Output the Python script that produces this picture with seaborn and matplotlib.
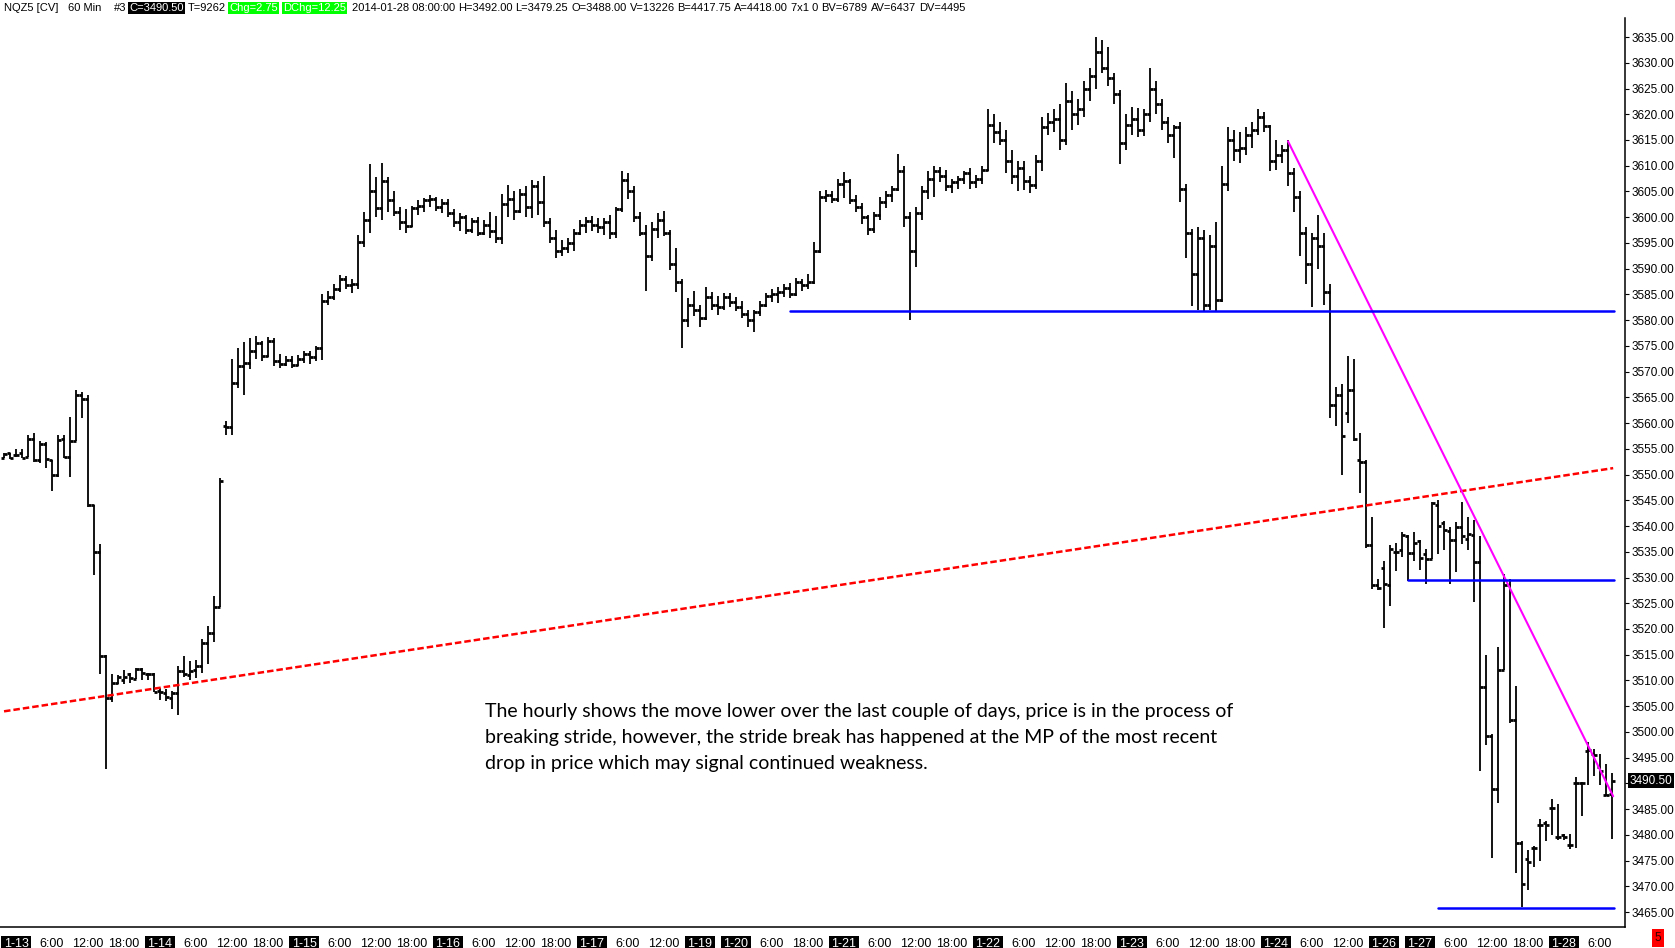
"""Hourly NQ futures bars with stride line, trend line and support levels."""

import matplotlib

matplotlib.use("Agg")
import matplotlib.pyplot as plt
import numpy as np
import pandas as pd
import seaborn as sns

# --- hourly OHLC bars (one value per bar, oldest first) ---
OPEN = [
    3553.25, 3554.25, 3553.75, 3554.25, 3553.5, 3557.0, 3552.75, 3556.0, 3552.75, 3550.0,
    3557.0, 3553.5, 3556.5, 3565.5, 3564.75, 3544.0, 3535.0, 3514.75, 3506.5, 3509.5,
    3510.0, 3511.25, 3510.25, 3512.25, 3511.25, 3511.25, 3508.0, 3507.5, 3506.5, 3507.5,
    3511.75, 3511.0, 3512.0, 3512.75, 3517.25, 3519.25, 3524.25, 3559.5, 3559.25, 3567.75,
    3571.0, 3571.75, 3574.0, 3575.5, 3573.0, 3576.0, 3572.0, 3571.5, 3572.25, 3571.25,
    3572.5, 3573.5, 3572.75, 3574.5, 3583.75, 3584.5, 3586.0, 3588.0, 3586.75, 3587.0,
    3595.25, 3599.5, 3605.0, 3601.75, 3607.0, 3603.25, 3601.0, 3599.0, 3598.25, 3601.75,
    3602.25, 3603.25, 3603.5, 3602.0, 3602.75, 3600.75, 3599.0, 3600.0, 3597.5, 3599.25,
    3597.0, 3598.5, 3597.25, 3596.0, 3602.5, 3603.5, 3601.25, 3604.5, 3602.0, 3606.0,
    3603.0, 3599.0, 3596.0, 3593.5, 3594.0, 3595.0, 3597.0, 3598.5, 3599.25, 3598.5,
    3598.0, 3599.0, 3597.0, 3601.5, 3607.25, 3605.0, 3600.0, 3597.0, 3592.5, 3597.75,
    3599.5, 3597.0, 3591.0, 3587.5, 3580.0, 3583.0, 3582.0, 3580.5, 3584.5, 3583.0,
    3582.5, 3584.5, 3583.5, 3582.5, 3581.25, 3580.0, 3581.5, 3583.0, 3584.75, 3585.0,
    3585.5, 3586.25, 3585.0, 3587.5, 3586.75, 3587.5, 3593.5, 3604.0, 3604.25, 3603.5,
    3606.5, 3607.0, 3603.25, 3602.0, 3600.0, 3597.75, 3600.5, 3603.0, 3604.25, 3605.5,
    3609.0, 3600.0, 3593.5, 3600.75, 3605.0, 3607.5, 3609.0, 3608.0, 3606.0, 3606.75,
    3607.5, 3608.5, 3606.75, 3607.5, 3609.25, 3618.0, 3616.5, 3615.0, 3611.0, 3608.0,
    3609.5, 3607.0, 3606.25, 3611.0, 3617.5, 3618.5, 3619.0, 3615.0, 3622.5, 3620.0,
    3621.0, 3625.0, 3627.5, 3632.0, 3629.0, 3627.0, 3624.0, 3614.5, 3618.0, 3619.0,
    3617.0, 3620.0, 3625.0, 3622.0, 3618.5, 3616.0, 3617.5, 3605.5, 3597.0, 3589.0,
    3596.0, 3583.0, 3594.5, 3584.0, 3606.5, 3615.0, 3613.0, 3613.5, 3616.0, 3617.0,
    3619.5, 3617.75, 3611.0, 3612.0, 3613.0, 3608.5, 3604.0, 3597.0, 3591.0, 3596.0,
    3594.5, 3585.5, 3563.5, 3565.5, 3562.0, 3566.5, 3552.75, 3552.5, 3536.25, 3528.5,
    3531.75, 3528.5, 3535.0, 3535.25, 3538.0, 3534.75, 3537.0, 3534.5, 3533.5, 3544.0,
    3540.5, 3539.0, 3537.25, 3539.75, 3537.5, 3538.25, 3533.0, 3508.75, 3499.25, 3489.0,
    3512.0, 3528.5, 3502.25, 3478.5, 3475.25, 3477.5, 3482.0, 3482.25, 3485.25, 3479.5,
    3480.0, 3478.0, 3490.0, 3490.0, 3496.25, 3495.75, 3493.25, 3487.75, 3488.0,
]
HIGH = [
    3554.25, 3554.25, 3555.0, 3555.0, 3557.75, 3558.0, 3556.5, 3556.25, 3552.75, 3557.75,
    3557.75, 3561.25, 3566.5, 3566.0, 3565.5, 3544.0, 3536.5, 3515.0, 3511.25, 3511.0,
    3512.0, 3511.5, 3512.5, 3512.5, 3511.5, 3511.5, 3508.5, 3508.25, 3508.0, 3512.75,
    3514.75, 3513.75, 3514.0, 3518.0, 3520.5, 3526.5, 3549.25, 3560.5, 3572.5, 3574.5,
    3575.75, 3576.5, 3577.0, 3576.0, 3576.75, 3576.5, 3573.5, 3573.0, 3573.0, 3573.25,
    3574.0, 3574.0, 3575.0, 3585.0, 3585.75, 3587.0, 3588.75, 3588.5, 3588.0, 3596.5,
    3601.0, 3610.25, 3607.75, 3610.5, 3607.75, 3605.0, 3602.0, 3601.5, 3602.25, 3603.25,
    3603.75, 3604.25, 3604.0, 3603.5, 3603.5, 3601.5, 3600.75, 3600.5, 3599.75, 3600.0,
    3599.5, 3601.0, 3600.25, 3604.5, 3606.25, 3605.0, 3605.5, 3606.0, 3607.25, 3607.0,
    3608.0, 3599.75, 3597.5, 3595.5, 3596.0, 3597.75, 3599.5, 3600.0, 3600.25, 3599.75,
    3599.75, 3600.5, 3602.0, 3609.0, 3608.5, 3606.0, 3601.0, 3598.5, 3599.0, 3600.75,
    3601.25, 3597.5, 3594.0, 3588.0, 3584.25, 3585.75, 3583.0, 3586.5, 3585.5, 3584.75,
    3585.25, 3585.25, 3584.5, 3583.75, 3582.0, 3582.0, 3583.75, 3585.25, 3586.0, 3586.5,
    3587.0, 3587.25, 3588.25, 3588.0, 3589.0, 3595.25, 3605.0, 3605.25, 3605.0, 3607.5,
    3608.75, 3607.5, 3604.25, 3602.75, 3600.5, 3601.0, 3604.0, 3605.0, 3606.0, 3612.25,
    3610.0, 3601.0, 3602.0, 3606.0, 3609.0, 3610.0, 3609.75, 3609.25, 3607.5, 3608.0,
    3609.0, 3609.5, 3608.25, 3610.0, 3621.0, 3620.0, 3618.5, 3617.0, 3613.0, 3611.0,
    3611.0, 3608.0, 3612.0, 3619.5, 3620.25, 3621.0, 3622.0, 3626.0, 3624.5, 3623.0,
    3626.5, 3629.0, 3635.0, 3634.5, 3633.0, 3628.0, 3624.75, 3620.0, 3621.5, 3621.25,
    3621.0, 3629.0, 3626.5, 3623.0, 3619.5, 3618.0, 3618.5, 3606.5, 3597.75, 3598.0,
    3597.5, 3596.5, 3599.0, 3610.0, 3617.5, 3617.0, 3616.5, 3617.5, 3618.5, 3621.0,
    3620.5, 3618.0, 3615.0, 3614.0, 3615.0, 3609.5, 3605.0, 3598.0, 3597.0, 3600.5,
    3597.0, 3587.0, 3567.0, 3567.5, 3573.0, 3572.5, 3558.0, 3552.75, 3541.75, 3529.75,
    3533.25, 3536.25, 3536.75, 3538.75, 3538.25, 3538.75, 3537.25, 3535.5, 3544.75, 3545.0,
    3541.0, 3539.75, 3540.75, 3544.75, 3541.75, 3541.25, 3538.0, 3515.0, 3499.5, 3516.5,
    3530.75, 3529.75, 3509.0, 3478.75, 3477.0, 3477.75, 3483.0, 3482.75, 3487.0, 3486.0,
    3480.25, 3480.25, 3491.25, 3490.25, 3498.0, 3496.75, 3495.75, 3493.75, 3492.0,
]
LOW = [
    3553.25, 3553.0, 3553.5, 3553.25, 3553.5, 3552.5, 3552.25, 3551.25, 3546.75, 3549.5,
    3553.25, 3549.5, 3556.5, 3561.0, 3543.75, 3530.5, 3511.25, 3492.75, 3505.75, 3509.25,
    3509.25, 3509.5, 3510.25, 3510.0, 3510.0, 3507.75, 3506.25, 3506.0, 3504.5, 3503.25,
    3510.75, 3510.0, 3510.5, 3511.5, 3513.25, 3517.5, 3524.25, 3557.75, 3557.75, 3566.75,
    3565.5, 3570.5, 3572.5, 3572.0, 3572.75, 3571.0, 3570.75, 3571.0, 3570.75, 3571.0,
    3571.75, 3571.5, 3572.0, 3572.25, 3583.0, 3584.0, 3585.5, 3586.0, 3585.25, 3586.0,
    3594.25, 3597.0, 3600.0, 3599.5, 3601.0, 3600.25, 3597.5, 3597.0, 3598.0, 3600.5,
    3601.0, 3602.0, 3601.25, 3600.75, 3600.0, 3598.0, 3597.25, 3596.75, 3597.0, 3596.25,
    3596.5, 3596.0, 3595.0, 3594.75, 3600.0, 3599.5, 3600.75, 3600.0, 3599.75, 3600.5,
    3598.0, 3595.0, 3592.0, 3592.5, 3593.0, 3593.5, 3596.5, 3597.0, 3597.25, 3597.0,
    3596.5, 3595.75, 3596.0, 3601.0, 3603.5, 3599.0, 3596.25, 3585.75, 3591.5, 3596.0,
    3596.25, 3589.75, 3585.5, 3574.5, 3578.75, 3580.75, 3578.75, 3580.0, 3582.0, 3581.0,
    3582.0, 3582.5, 3581.75, 3580.5, 3578.75, 3577.75, 3580.75, 3582.5, 3583.5, 3583.25,
    3584.5, 3584.25, 3584.75, 3585.75, 3586.0, 3587.0, 3593.0, 3603.0, 3602.75, 3603.0,
    3603.75, 3602.5, 3601.0, 3598.75, 3596.5, 3597.0, 3599.5, 3601.75, 3603.0, 3605.0,
    3598.0, 3580.0, 3590.25, 3599.5, 3603.5, 3604.0, 3606.75, 3605.0, 3604.75, 3605.5,
    3606.5, 3605.5, 3605.75, 3606.5, 3609.0, 3614.5, 3614.0, 3608.5, 3606.5, 3605.0,
    3605.25, 3604.75, 3605.5, 3609.0, 3616.0, 3616.5, 3613.0, 3614.0, 3617.0, 3618.0,
    3619.5, 3622.5, 3625.0, 3628.0, 3625.5, 3622.0, 3610.25, 3613.0, 3616.0, 3615.5,
    3615.75, 3618.5, 3620.0, 3617.0, 3614.5, 3611.5, 3603.0, 3592.0, 3582.75, 3582.0,
    3581.75, 3582.0, 3581.75, 3583.5, 3605.0, 3611.0, 3610.5, 3612.0, 3613.5, 3616.0,
    3616.5, 3609.0, 3609.25, 3610.5, 3606.0, 3601.0, 3592.5, 3587.0, 3582.5, 3590.0,
    3583.0, 3561.0, 3559.5, 3550.0, 3560.0, 3556.5, 3546.5, 3535.75, 3527.75, 3527.5,
    3520.25, 3524.5, 3531.25, 3534.0, 3529.25, 3533.25, 3531.5, 3528.75, 3533.5, 3534.5,
    3535.25, 3528.75, 3531.0, 3536.5, 3535.25, 3525.25, 3492.5, 3497.5, 3475.5, 3486.25,
    3512.0, 3501.75, 3472.5, 3466.0, 3469.25, 3473.75, 3475.0, 3478.75, 3480.0, 3479.0,
    3479.0, 3477.25, 3477.5, 3483.75, 3489.75, 3491.5, 3489.75, 3487.5, 3479.25,
]
CLOSE = [
    3554.0, 3553.25, 3553.75, 3553.25, 3557.0, 3552.75, 3556.0, 3553.0, 3550.0, 3556.75,
    3553.5, 3556.5, 3565.5, 3564.75, 3544.0, 3535.0, 3514.75, 3506.5, 3509.5, 3510.75,
    3510.75, 3510.5, 3512.25, 3511.5, 3511.25, 3507.75, 3507.75, 3506.75, 3507.5, 3511.75,
    3511.25, 3511.75, 3512.75, 3517.25, 3519.25, 3524.25, 3548.75, 3559.25, 3567.75, 3571.0,
    3571.75, 3574.0, 3575.5, 3573.0, 3576.0, 3572.0, 3571.5, 3572.25, 3571.25, 3572.5,
    3573.5, 3572.75, 3574.5, 3583.75, 3584.5, 3586.0, 3588.0, 3586.75, 3587.0, 3595.25,
    3599.5, 3605.0, 3601.75, 3607.0, 3603.25, 3601.0, 3599.0, 3598.25, 3601.75, 3602.25,
    3603.25, 3603.5, 3602.0, 3602.75, 3600.75, 3599.0, 3600.0, 3597.5, 3599.25, 3597.0,
    3598.5, 3597.25, 3596.0, 3602.5, 3603.5, 3601.25, 3604.5, 3602.0, 3606.0, 3603.0,
    3599.0, 3596.0, 3593.5, 3594.0, 3595.0, 3597.0, 3598.5, 3599.25, 3598.5, 3598.0,
    3599.0, 3597.0, 3601.5, 3607.25, 3605.0, 3600.0, 3597.0, 3592.5, 3597.75, 3599.5,
    3597.0, 3591.0, 3587.5, 3580.0, 3583.0, 3582.0, 3580.5, 3584.5, 3583.0, 3582.5,
    3584.5, 3583.5, 3582.5, 3581.25, 3580.0, 3581.5, 3583.0, 3584.75, 3585.0, 3585.5,
    3586.25, 3585.0, 3587.5, 3586.75, 3587.5, 3593.5, 3604.0, 3604.25, 3603.5, 3606.5,
    3607.0, 3603.25, 3602.0, 3600.0, 3597.75, 3600.5, 3603.0, 3604.25, 3605.5, 3609.0,
    3600.0, 3593.5, 3600.75, 3605.0, 3607.5, 3609.0, 3608.0, 3606.0, 3606.75, 3607.5,
    3608.5, 3606.75, 3607.5, 3609.25, 3618.0, 3616.5, 3615.0, 3611.0, 3608.0, 3609.5,
    3607.0, 3606.25, 3611.0, 3617.5, 3618.5, 3619.0, 3615.0, 3622.5, 3620.0, 3621.0,
    3625.0, 3627.5, 3632.0, 3629.0, 3627.0, 3624.0, 3614.5, 3618.0, 3619.0, 3617.0,
    3620.0, 3625.0, 3622.0, 3618.5, 3616.0, 3617.5, 3605.5, 3597.0, 3589.0, 3596.0,
    3583.0, 3594.5, 3584.0, 3606.5, 3615.0, 3613.0, 3613.5, 3616.0, 3617.0, 3619.5,
    3617.75, 3611.0, 3612.0, 3613.0, 3608.5, 3604.0, 3597.0, 3591.0, 3596.0, 3594.5,
    3585.5, 3563.5, 3565.5, 3557.5, 3566.5, 3557.0, 3552.5, 3536.25, 3528.5, 3528.0,
    3528.75, 3535.5, 3535.0, 3538.25, 3534.75, 3536.75, 3533.75, 3533.5, 3544.5, 3540.0,
    3539.25, 3537.25, 3539.75, 3538.0, 3538.5, 3533.0, 3508.75, 3499.25, 3489.0, 3512.0,
    3528.5, 3502.25, 3478.5, 3470.5, 3474.75, 3477.5, 3482.0, 3482.0, 3485.25, 3479.5,
    3479.5, 3478.0, 3490.0, 3490.0, 3496.5, 3495.5, 3492.5, 3487.75, 3490.5,
]

# time axis labels, one every 6 hourly bars starting at bar 2
TIME_LABELS = [
    "1-13", "6:00", "12:00", "18:00", "1-14", "6:00", "12:00", "18:00",
    "1-15", "6:00", "12:00", "18:00", "1-16", "6:00", "12:00", "18:00",
    "1-17", "6:00", "12:00", "1-19", "1-20", "6:00", "18:00",
    "1-21", "6:00", "12:00", "18:00", "1-22", "6:00", "12:00", "18:00",
    "1-23", "6:00", "12:00", "18:00", "1-24", "6:00", "12:00",
    "1-26", "1-27", "6:00", "12:00", "18:00", "1-28", "6:00",
]
FIRST_LABEL_BAR = 2
BARS_PER_LABEL = 6

PRICE_TICKS = [3465 + 5 * k for k in range(35)]

# drawn studies (bar index, price)
STRIDE_BARS = [0, 268.2]
STRIDE_PRICES = [3504.0, 3551.25]
TREND_BARS = [214, 268.2]
TREND_PRICES = [3614.75, 3487.5]
LEVEL_PRICES = [3581.75, 3529.5, 3465.75]
LEVEL_START_BARS = [131, 234, 239]
LEVEL_END_BAR = 268.4

LAST_PRICE = 3490.50

NOTE_LINES = [
    "The hourly shows the move lower over the last couple of days, price is in the process of",
    "breaking stride, however, the stride break has happened at the MP of the most recent",
    "drop in price which may signal continued weakness.",
]

# header line: (text, left pixel, box colour or None)
HEADER = [
    ("NQZ5 [CV]", 4, None),
    ("60 Min", 68, None),
    ("#3", 114, None),
    ("C=3490.50", 127, "black"),
    ("T=9262", 188, None),
    ("Chg=2.75", 228, "#00ff00"),
    ("DChg=12.25", 283, "#00ff00"),
    ("2014-01-28 08:00:00", 352, None),
    ("H=3492.00", 443, None),
    ("L=3479.25", 498, None),
    ("O=3488.00", 571, None),
    ("V=13226", 626, None),
    ("B=4417.75", 671, None),
    ("A=4418.00", 726, None),
    ("7x1 0", 781, None),
    ("BV=6789", 808, None),
    ("AV=6437", 856, None),
    ("DV=4495", 906, None),
]

W, H = 1675, 948
SMALL_FONT = ["Liberation Sans Narrow", "Liberation Sans", "DejaVu Sans"]


def main() -> None:
    sns.set_style("white")
    plt.rcParams["font.family"] = ["Liberation Sans", "DejaVu Sans"]

    bars = pd.DataFrame({"open": OPEN, "high": HIGH, "low": LOW, "close": CLOSE})
    bars["bar"] = np.arange(len(bars))

    fig = plt.figure(figsize=(W / 100, H / 100), dpi=100)
    ax = fig.add_axes([0, 21 / H, 1625 / W, 1 - 39 / H])

    # OHLC bars
    ax.vlines(bars["bar"], bars["low"], bars["high"], color="black", linewidth=1.3, zorder=2)
    ax.hlines(bars["open"], bars["bar"] - 0.45, bars["bar"], color="black", linewidth=2.0, zorder=2)
    ax.hlines(bars["close"], bars["bar"], bars["bar"] + 0.45, color="black", linewidth=2.0, zorder=2)

    # stride line, trend line and horizontal levels
    sns.lineplot(x=STRIDE_BARS, y=STRIDE_PRICES, color="#ff0000", linewidth=1.8,
                 linestyle=(0, (2.6, 1.2)), ax=ax, zorder=3)
    sns.lineplot(x=TREND_BARS, y=TREND_PRICES, color="#ff00ff", linewidth=1.5, ax=ax, zorder=3)
    for level, start in zip(LEVEL_PRICES, LEVEL_START_BARS):
        sns.lineplot(x=[start, LEVEL_END_BAR], y=[level, level], color="#0000ff",
                     linewidth=1.8, ax=ax, zorder=3)

    ax.set_xlim(-0.67, 270.17)
    ax.set_ylim(3462.1, 3638.7)

    # x axis: hours with day labels boxed
    positions = [FIRST_LABEL_BAR + BARS_PER_LABEL * k for k in range(len(TIME_LABELS))]
    ax.tick_params(axis="x", direction="out", length=3, width=0.8, pad=5, colors="black")
    ax.set_xticks(positions)
    ax.set_xticklabels(TIME_LABELS, fontsize=9, family=SMALL_FONT)
    for lbl in ax.get_xticklabels():
        if "-" in lbl.get_text():
            lbl.set_color("white")
            lbl.set_bbox(dict(facecolor="black", edgecolor="none", pad=1.8))

    # price axis on the right; the last-price box covers 3490.00
    ax.yaxis.tick_right()
    ax.tick_params(axis="y", direction="out", length=3, width=0.8, pad=2, colors="black")
    ax.set_yticks(PRICE_TICKS)
    ax.set_yticklabels(["" if p == 3490 else f"{p:.2f}" for p in PRICE_TICKS],
                       fontsize=8.5, family=SMALL_FONT)
    ax.text(1.003, LAST_PRICE, f"{LAST_PRICE:.2f}", transform=ax.get_yaxis_transform(),
            ha="left", va="center", fontsize=8.5, family=SMALL_FONT, color="white",
            bbox=dict(facecolor="black", edgecolor="none", pad=1.2))

    for side in ("top", "left"):
        ax.spines[side].set_visible(False)
    for side in ("right", "bottom"):
        ax.spines[side].set_color("black")
        ax.spines[side].set_linewidth(1.1)
    ax.set_xlabel("")
    ax.set_ylabel("")

    # commentary
    for k, line in enumerate(NOTE_LINES):
        fig.text(485 / W, 1 - (711 + 26.5 * k) / H, line, fontsize=14,
                 family=["Lato", "DejaVu Sans"], ha="left", va="center", color="black")

    # header strip, each item kept clear of the one before it
    renderer = fig.canvas.get_renderer()
    prev_right = 0
    for text, left, box in HEADER:
        kw = {}
        color = "black"
        if box is not None:
            kw["bbox"] = dict(facecolor=box, edgecolor="none", pad=1.0)
            color = "white"
        x = max(left, prev_right + 3)
        t = fig.text(x / W, 1 - 8 / H, text, fontsize=8, family=SMALL_FONT,
                     ha="left", va="center", color=color, **kw)
        prev_right = t.get_window_extent(renderer).x1

    fig.text(1658 / W, 1 - 938 / H, "5", fontsize=8.5, ha="center", va="center", color="#300000",
             bbox=dict(facecolor="#ff0000", edgecolor="none", pad=2.0))

    fig.savefig("out.png", dpi=100)


if __name__ == "__main__":
    main()
